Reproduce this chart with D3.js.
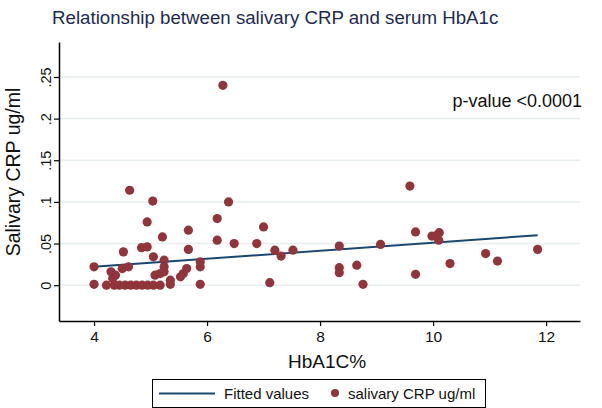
<!DOCTYPE html>
<html>
<head>
<meta charset="utf-8">
<script src="https://cdn.jsdelivr.net/npm/d3@7"></script>
<style>
  html, body { margin: 0; padding: 0; background: #fff; }
  svg { display: block; font-family: "Liberation Sans", Arial, sans-serif; }
</style>
</head>
<body>
<svg id="chart" width="602" height="408"></svg>
<script>
// ---- data ----
const hba1c = [4.0, 4.0, 4.22, 4.30, 4.33, 4.38, 4.36, 4.45, 4.52, 4.50, 4.61, 4.63, 4.55, 4.65, 4.75, 4.85, 4.95, 5.05,
  4.84, 4.94, 4.94, 5.04, 5.05, 5.08, 5.17, 5.17, 5.21, 5.24, 5.24, 5.24, 5.35, 5.35, 5.53, 5.58, 5.64, 5.67, 5.67,
  5.88, 5.88, 5.88, 6.18, 6.18, 6.28, 6.38, 6.48, 6.88, 7.0, 7.11, 7.2, 7.31, 7.52, 8.34, 8.34, 8.34, 8.65, 8.76,
  9.07, 9.59, 9.69, 9.69, 9.98, 10.07, 10.11, 10.10, 10.30, 10.93, 11.14, 11.85];
const crp = [0.022, 0.001, 0.0, 0.016, 0.008, 0.012, 0.0, 0.0, 0.040, 0.020, 0.022, 0.114, 0.0, 0.0, 0.0, 0.0, 0.0, 0.0,
  0.045, 0.046, 0.076, 0.101, 0.034, 0.012, 0.014, 0.0, 0.058, 0.030, 0.022, 0.016, 0.006, 0.001, 0.010, 0.014, 0.020, 0.066, 0.043,
  0.028, 0.022, 0.001, 0.080, 0.054, 0.240, 0.100, 0.050, 0.050, 0.070, 0.003, 0.042, 0.035, 0.042, 0.047, 0.021, 0.015, 0.024, 0.001,
  0.049, 0.119, 0.064, 0.013, 0.059, 0.060, 0.063, 0.054, 0.026, 0.038, 0.029, 0.043];
const fitX = [4.0, 11.85];
const fitY = [0.022, 0.060];
const xTicks = [4, 6, 8, 10, 12];
const yTicks = [0, 0.05, 0.1, 0.15, 0.2, 0.25];
const yTickLabels = ["0", ".05", ".1", ".15", ".2", ".25"];
const titleText = "Relationship between salivary CRP and serum HbA1c";
const xTitle = "HbA1C%";
const yTitle = "Salivary CRP ug/ml";
const annot = "p-value <0.0001";
const legendLabels = ["Fitted values", "salivary CRP ug/ml"];

// ---- layout ----
const svg = d3.select("#chart");
const padL = 59, padR = 580, padT = 42, padB = 321;
const x = d3.scaleLinear().domain([3.38, 12.6]).range([padL, padR]);
const y = d3.scaleLinear().domain([-0.043, 0.292]).range([padB, padT]);
const dotColor = "#90353b", lineColor = "#1a476f", gridColor = "#e6eef0";

// gridlines
svg.append("g").selectAll("line").data(yTicks).join("line")
  .attr("x1", padL).attr("x2", padR)
  .attr("y1", d => y(d)).attr("y2", d => y(d))
  .attr("stroke", gridColor).attr("stroke-width", 1.5);

// fitted line
const pts = fitX.map((v, i) => [v, fitY[i]]);
svg.append("path").datum(pts)
  .attr("d", d3.line().x(d => x(d[0])).y(d => y(d[1])))
  .attr("fill", "none").attr("stroke", lineColor).attr("stroke-width", 2);

// points
svg.append("g").selectAll("circle").data(hba1c.map((v, i) => [v, crp[i]])).join("circle")
  .attr("cx", d => x(d[0])).attr("cy", d => y(d[1])).attr("r", 4.6)
  .attr("fill", dotColor);

// x axis
const xAxis = svg.append("g").attr("transform", `translate(0,${padB})`)
  .call(d3.axisBottom(x).tickValues(xTicks).tickSize(5).tickPadding(5).tickSizeOuter(0));
xAxis.select(".domain").attr("stroke", "#000").attr("stroke-width", 1.5);
xAxis.selectAll(".tick line").attr("stroke", "#000").attr("stroke-width", 1.2);
xAxis.selectAll("text").attr("font-size", 15.5).attr("fill", "#111")
  .attr("font-family", "Liberation Sans, Arial, sans-serif");

// y axis
const yAxis = svg.append("g").attr("transform", `translate(${padL},0)`)
  .call(d3.axisLeft(y).tickValues(yTicks).tickSize(5).tickSizeOuter(0)
    .tickFormat((d, i) => yTickLabels[i]));
yAxis.select(".domain").attr("stroke", "#000").attr("stroke-width", 1.5);
yAxis.selectAll(".tick line").attr("stroke", "#000").attr("stroke-width", 1.2);
yAxis.selectAll("text")
  .attr("font-size", 14.5).attr("fill", "#111")
  .attr("font-family", "Liberation Sans, Arial, sans-serif")
  .attr("x", null).attr("dy", null)
  .attr("text-anchor", "middle")
  .attr("transform", "translate(-8,0) rotate(-90)")
  .attr("y", 0);

// titles
svg.append("text").attr("x", 52).attr("y", 24).text(titleText)
  .attr("font-size", 18.7).attr("fill", "#1e2b4f");
svg.append("text").attr("x", 327).attr("y", 368).attr("text-anchor", "middle")
  .text(xTitle).attr("font-size", 19).attr("fill", "#111");
svg.append("text").attr("transform", `translate(20,172) rotate(-90)`)
  .attr("text-anchor", "middle").text(yTitle).attr("font-size", 19.5).attr("fill", "#111");

// annotation
svg.append("text").attr("x", 582).attr("y", 107).attr("text-anchor", "end")
  .text(annot).attr("font-size", 18).attr("fill", "#111");

// legend
const lg = svg.append("g");
lg.append("rect").attr("x", 152.5).attr("y", 379.5).attr("width", 333).attr("height", 28)
  .attr("fill", "#fff").attr("stroke", "#000").attr("stroke-width", 1);
lg.append("line").attr("x1", 159).attr("x2", 215).attr("y1", 393.5).attr("y2", 393.5)
  .attr("stroke", lineColor).attr("stroke-width", 2);
lg.append("text").attr("x", 224).attr("y", 399).text(legendLabels[0])
  .attr("font-size", 15).attr("fill", "#111");
lg.append("circle").attr("cx", 335).attr("cy", 393).attr("r", 4).attr("fill", dotColor);
lg.append("text").attr("x", 348).attr("y", 399).text(legendLabels[1])
  .attr("font-size", 15).attr("fill", "#111");
</script>
</body>
</html>
